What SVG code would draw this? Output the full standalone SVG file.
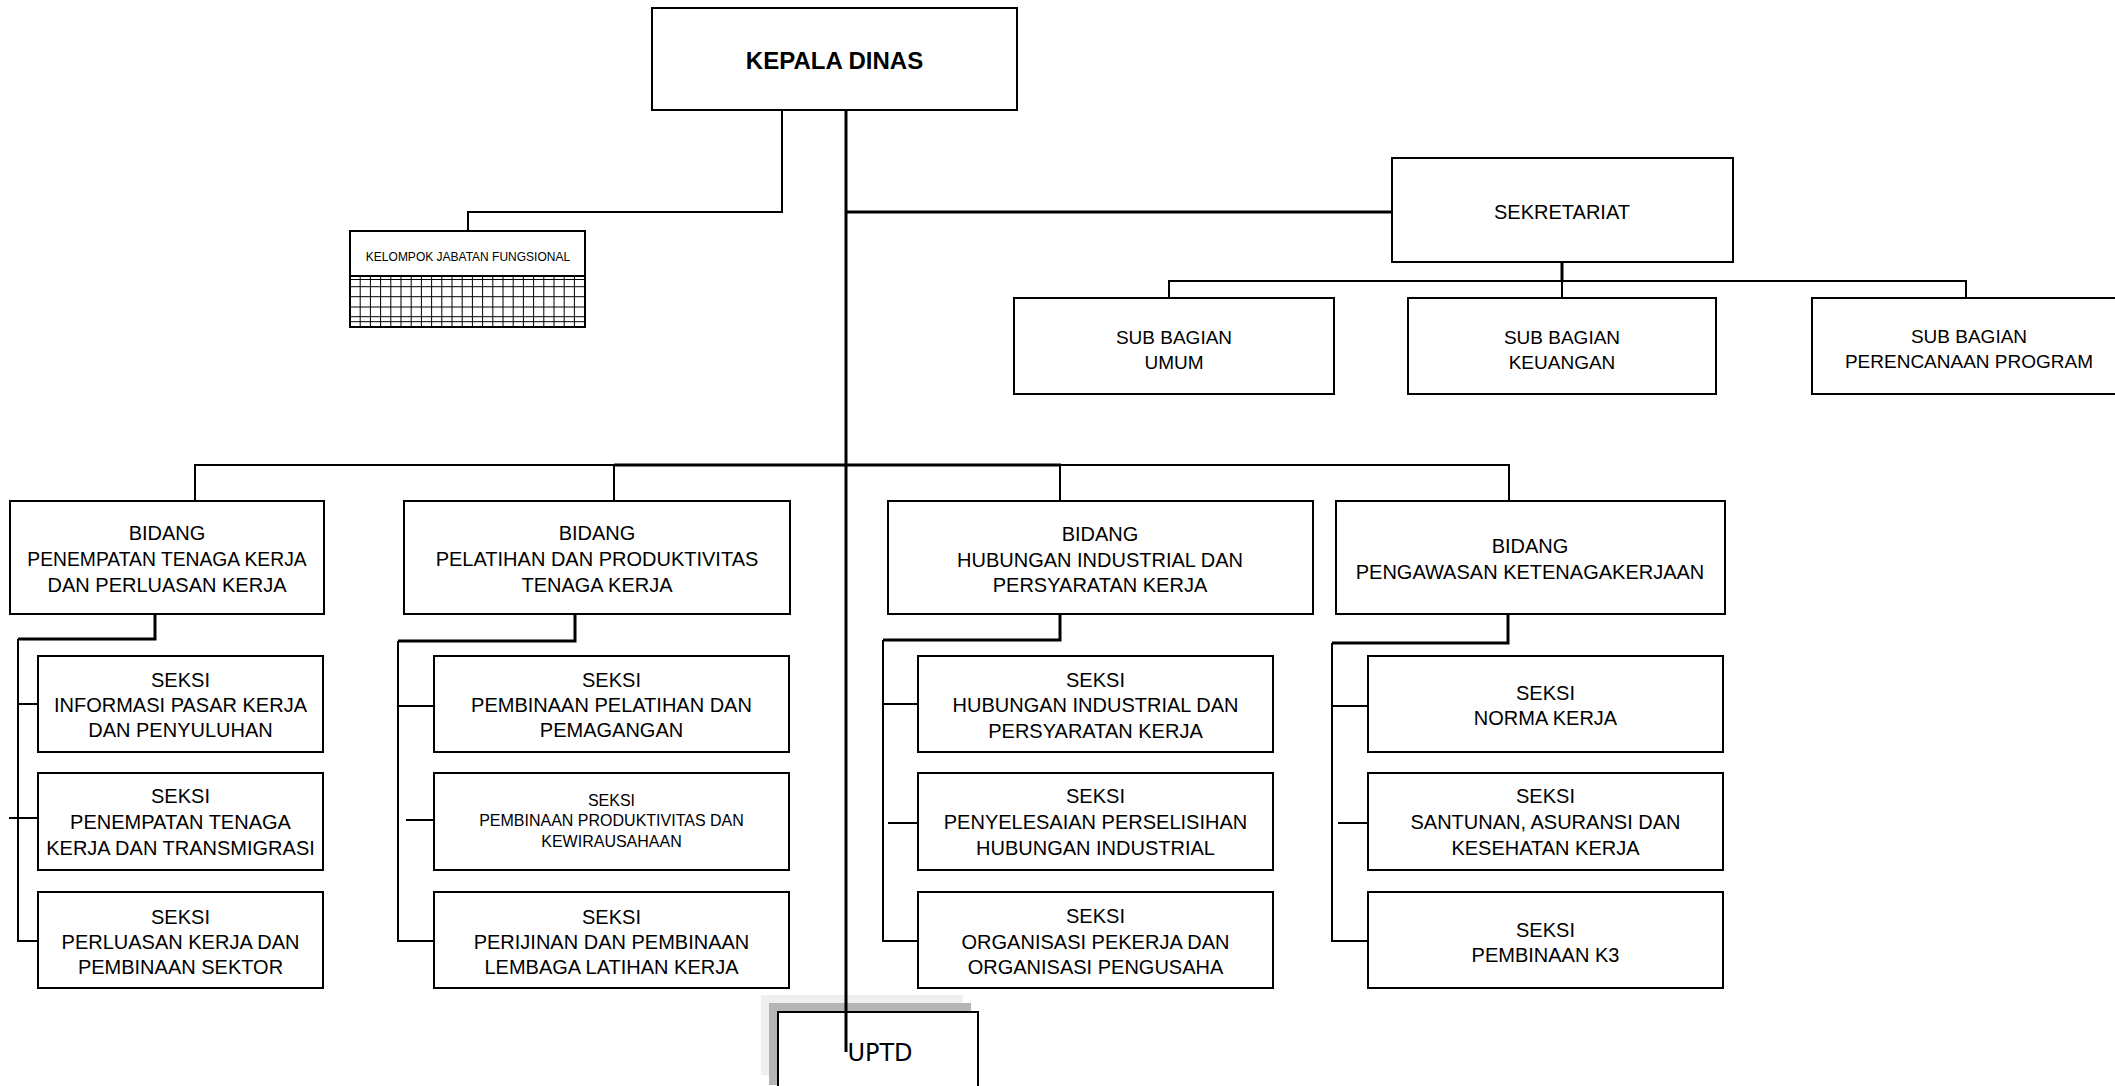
<svg xmlns="http://www.w3.org/2000/svg" width="2115" height="1086" viewBox="0 0 2115 1086">
<style>
.box{fill:#fff;stroke:#000;stroke-width:2}
.t{font-family:"Liberation Sans",Arial,sans-serif;font-size:20px;text-anchor:middle;fill:#000}
.s16{font-size:16px}
.c{fill:none;stroke:#000;stroke-width:2}
.k{fill:none;stroke:#000;stroke-width:3}
.grid{fill:none;stroke:#000;stroke-width:1}
</style>
<rect x="0" y="0" width="2115" height="1086" fill="#fff"/>

<g id="kepala-dinas">
<rect class="box" x="652" y="8" width="365" height="102"/>
<text class="t" x="834.5" y="69" style="font-size:24px;font-weight:bold">KEPALA DINAS</text>
</g>

<g id="kelompok-jabatan-fungsional">
<rect class="box" x="350" y="231" width="235" height="96"/>
<path class="grid" d="M360.2,276V327M370.4,276V327M380.6,276V327M390.8,276V327M401,276V327M411.2,276V327M421.4,276V327M431.6,276V327M441.8,276V327M452,276V327M462.2,276V327M472.4,276V327M482.6,276V327M492.8,276V327M503,276V327M513.2,276V327M523.4,276V327M533.6,276V327M543.8,276V327M554,276V327M564.2,276V327M574.4,276V327M350,279.5H585M350,286.7H585M350,296.7H585M350,307H585M350,316.7H585M350,321.7H585"/>
<path class="c" d="M350,276H585"/>
<text class="t" x="468" y="261" style="font-size:12px">KELOMPOK JABATAN FUNGSIONAL</text>
</g>

<g id="sekretariat">
<rect class="box" x="1392" y="158" width="341" height="104"/>
<text class="t" x="1562" y="219">SEKRETARIAT</text>
</g>

<g id="sub-bagian-umum">
<rect class="box" x="1014" y="298" width="320" height="96"/>
<text class="t" x="1174" y="344" style="font-size:19px">SUB BAGIAN</text>
<text class="t" x="1174" y="369" style="font-size:19px">UMUM</text>
</g>

<g id="sub-bagian-keuangan">
<rect class="box" x="1408" y="298" width="308" height="96"/>
<text class="t" x="1562" y="344" style="font-size:19px">SUB BAGIAN</text>
<text class="t" x="1562" y="369" style="font-size:19px">KEUANGAN</text>
</g>

<g id="sub-bagian-perencanaan">
<rect class="box" x="1812" y="298" width="316" height="96"/>
<text class="t" x="1969" y="343" style="font-size:19px">SUB BAGIAN</text>
<text class="t" x="1969" y="368" style="font-size:19px">PERENCANAAN PROGRAM</text>
</g>

<g id="bidang-penempatan">
<rect class="box" x="10" y="501" width="314" height="113"/>
<text class="t" x="167" y="540">BIDANG</text>
<text class="t" x="167" y="566" style="font-size:19.3px">PENEMPATAN TENAGA KERJA</text>
<text class="t" x="167" y="592">DAN PERLUASAN KERJA</text>
</g>

<g id="bidang-pelatihan">
<rect class="box" x="404" y="501" width="386" height="113"/>
<text class="t" x="597" y="540">BIDANG</text>
<text class="t" x="597" y="566">PELATIHAN DAN PRODUKTIVITAS</text>
<text class="t" x="597" y="592">TENAGA KERJA</text>
</g>

<g id="bidang-hubungan">
<rect class="box" x="888" y="501" width="425" height="113"/>
<text class="t" x="1100" y="541">BIDANG</text>
<text class="t" x="1100" y="567">HUBUNGAN INDUSTRIAL DAN</text>
<text class="t" x="1100" y="592">PERSYARATAN KERJA</text>
</g>

<g id="bidang-pengawasan">
<rect class="box" x="1336" y="501" width="389" height="113"/>
<text class="t" x="1530" y="553">BIDANG</text>
<text class="t" x="1530" y="579">PENGAWASAN KETENAGAKERJAAN</text>
</g>

<g id="seksi-informasi">
<rect class="box" x="38" y="656" width="285" height="96"/>
<text class="t" x="180.5" y="687">SEKSI</text>
<text class="t" x="180.5" y="712">INFORMASI PASAR KERJA</text>
<text class="t" x="180.5" y="737">DAN PENYULUHAN</text>
</g>
<g id="seksi-penempatan">
<rect class="box" x="38" y="773" width="285" height="97"/>
<text class="t" x="180.5" y="803">SEKSI</text>
<text class="t" x="180.5" y="829">PENEMPATAN TENAGA</text>
<text class="t" x="180.5" y="855">KERJA DAN TRANSMIGRASI</text>
</g>
<g id="seksi-perluasan">
<rect class="box" x="38" y="892" width="285" height="96"/>
<text class="t" x="180.5" y="924">SEKSI</text>
<text class="t" x="180.5" y="949">PERLUASAN KERJA DAN</text>
<text class="t" x="180.5" y="974">PEMBINAAN SEKTOR</text>
</g>

<g id="seksi-pelatihan">
<rect class="box" x="434" y="656" width="355" height="96"/>
<text class="t" x="611.5" y="687">SEKSI</text>
<text class="t" x="611.5" y="712">PEMBINAAN PELATIHAN DAN</text>
<text class="t" x="611.5" y="737">PEMAGANGAN</text>
</g>
<g id="seksi-produktivitas">
<rect class="box" x="434" y="773" width="355" height="97"/>
<text class="t s16" x="611.5" y="806">SEKSI</text>
<text class="t s16" x="611.5" y="826">PEMBINAAN PRODUKTIVITAS DAN</text>
<text class="t s16" x="611.5" y="847">KEWIRAUSAHAAN</text>
</g>
<g id="seksi-perijinan">
<rect class="box" x="434" y="892" width="355" height="96"/>
<text class="t" x="611.5" y="924">SEKSI</text>
<text class="t" x="611.5" y="949">PERIJINAN DAN PEMBINAAN</text>
<text class="t" x="611.5" y="974">LEMBAGA LATIHAN KERJA</text>
</g>

<g id="seksi-hubungan">
<rect class="box" x="918" y="656" width="355" height="96"/>
<text class="t" x="1095.5" y="687">SEKSI</text>
<text class="t" x="1095.5" y="712">HUBUNGAN INDUSTRIAL DAN</text>
<text class="t" x="1095.5" y="738">PERSYARATAN KERJA</text>
</g>
<g id="seksi-perselisihan">
<rect class="box" x="918" y="773" width="355" height="97"/>
<text class="t" x="1095.5" y="803">SEKSI</text>
<text class="t" x="1095.5" y="829">PENYELESAIAN PERSELISIHAN</text>
<text class="t" x="1095.5" y="855">HUBUNGAN INDUSTRIAL</text>
</g>
<g id="seksi-organisasi">
<rect class="box" x="918" y="892" width="355" height="96"/>
<text class="t" x="1095.5" y="923">SEKSI</text>
<text class="t" x="1095.5" y="949">ORGANISASI PEKERJA DAN</text>
<text class="t" x="1095.5" y="974">ORGANISASI PENGUSAHA</text>
</g>

<g id="seksi-norma">
<rect class="box" x="1368" y="656" width="355" height="96"/>
<text class="t" x="1545.5" y="700">SEKSI</text>
<text class="t" x="1545.5" y="725">NORMA KERJA</text>
</g>
<g id="seksi-santunan">
<rect class="box" x="1368" y="773" width="355" height="97"/>
<text class="t" x="1545.5" y="803">SEKSI</text>
<text class="t" x="1545.5" y="829">SANTUNAN, ASURANSI DAN</text>
<text class="t" x="1545.5" y="855">KESEHATAN KERJA</text>
</g>
<g id="seksi-k3">
<rect class="box" x="1368" y="892" width="355" height="96"/>
<text class="t" x="1545.5" y="937">SEKSI</text>
<text class="t" x="1545.5" y="962">PEMBINAAN K3</text>
</g>

<g id="uptd">
<rect x="761" y="995" width="202" height="80" fill="#efefef"/>
<rect x="769" y="1003" width="202" height="82" fill="#b5b5b5"/>
<rect class="box" x="778" y="1012" width="200" height="82"/>
<text x="880" y="1061" style="font-family:'DejaVu Sans','Liberation Sans',sans-serif;font-size:24px;text-anchor:middle;fill:#000">UPTD</text>
</g>

<g id="connectors">
<path class="c" d="M782,110V212H468V231"/>
<path class="k" d="M846,110V1052"/>
<path class="k" d="M846,212H1392"/>
<path class="k" d="M1562,262V281"/>
<path class="c" d="M1169,298V281H1966V298M1562,281V298"/>
<path class="c" d="M195,501V465H1509V501M614,465V501M1060,465V501"/>
<path class="k" d="M614,465H1061"/>
<path class="k" d="M155,614V639H18"/>
<path class="c" d="M18,639V941H38M18,704H38M9,818H39"/>
<path class="k" d="M575,614V641H398"/>
<path class="c" d="M398,641V941H434M398,706H434M406,820H434"/>
<path class="k" d="M1060,614V640H883"/>
<path class="c" d="M883,640V941H918M883,704H918M888,823H918"/>
<path class="k" d="M1508,614V643H1332"/>
<path class="c" d="M1332,643V941H1368M1332,706H1368M1338,823H1368"/>
</g>
</svg>
